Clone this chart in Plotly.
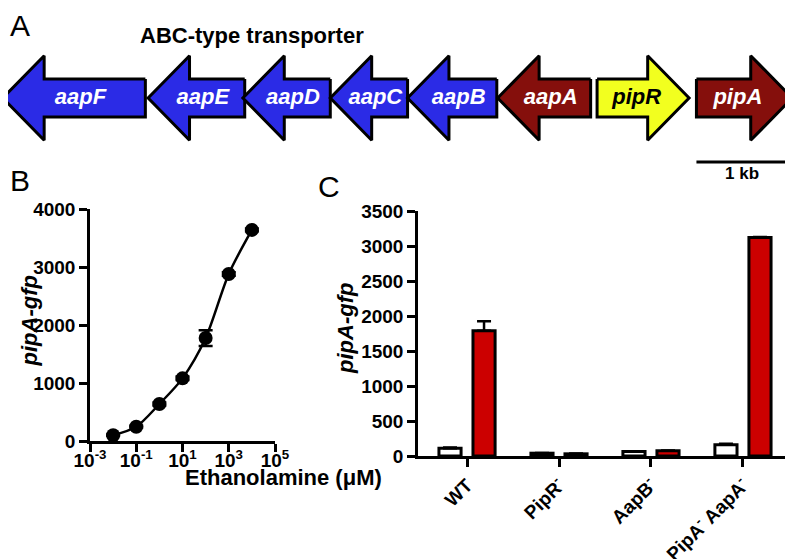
import plotly.graph_objects as go

W, H = 793, 559
OFF = 8  # page body margin of the html page
FONT = "Liberation Sans"

# ---------------- Panel A: gene map ----------------
genes = ["aapF", "aapE", "aapD", "aapC", "aapB", "aapA", "pipR", "pipA"]
gene_start_kb = [0.03, 1.61, 2.64, 3.59, 4.43, 5.41, 6.49, 7.57]
gene_end_kb = [1.58, 2.66, 3.59, 4.43, 5.40, 6.42, 7.49, 8.61]
gene_strand = [-1, -1, -1, -1, -1, -1, 1, 1]
gene_colors = ["#2b2be6", "#2b2be6", "#2b2be6", "#2b2be6", "#2b2be6",
               "#850f0c", "#f2ff1f", "#850f0c"]
gene_label_colors = ["white", "white", "white", "white", "white",
                     "white", "black", "white"]
operon_label = "ABC-type transporter"
scalebar_start_kb = 7.57
scalebar_kb = 1.0
scalebar_label = "1 kb"

# ---------------- Panel B: dose response ----------------
ethanolamine_uM = [0.01, 0.1, 1, 10, 100, 1000, 10000]
pipA_gfp_B = [100, 246, 638, 1080, 1775, 2880, 3640]
pipA_gfp_B_err = [10, 15, 25, 30, 135, 30, 25]
b_tickvals = [1e-3, 1e-1, 1e1, 1e3, 1e5]
b_ticktext = ["10<sup>-3</sup>", "10<sup>-1</sup>", "10<sup>1</sup>",
              "10<sup>3</sup>", "10<sup>5</sup>"]
b_yticks = [0, 1000, 2000, 3000, 4000]

# ---------------- Panel C: strains ----------------
strains = ["WT", "PipR<sup>-</sup>", "AapB<sup>-</sup>",
           "PipA<sup>-</sup> AapA<sup>-</sup>"]
c_white = [111, 40, 64, 160]
c_white_err = [12, 4, 5, 14]
c_red = [1790, 31, 74, 3120]
c_red_err = [136, 4, 5, 10]
c_yticks = [0, 500, 1000, 1500, 2000, 2500, 3000, 3500]

# geometry constants (style)
KB_PX = 92.0
HEAD_KB = 0.45
BODY_H = 0.21
HEAD_H = 0.47


def px_x(p):
    return (p - OFF) / W


def px_y(p):
    return 1 - (p - OFF) / H


fig = go.Figure()

# gene arrows
lab_x = []
for name, s, e, st, col in zip(genes, gene_start_kb, gene_end_kb, gene_strand, gene_colors):
    if st > 0:
        hb = e - HEAD_KB
        xs = [s, hb, hb, e, hb, hb, s, s]
    else:
        hb = s + HEAD_KB
        xs = [e, hb, hb, s, hb, hb, e, e]
    ys = [BODY_H, BODY_H, HEAD_H, 0, -HEAD_H, -BODY_H, -BODY_H, BODY_H]
    fig.add_trace(go.Scatter(x=xs, y=ys, mode="lines", fill="toself",
                             fillcolor=col, line=dict(color="black", width=3),
                             xaxis="x", yaxis="y", hoverinfo="skip",
                             showlegend=False))
    lab_x.append((s + e) / 2 - st * 0.07)

fig.add_trace(go.Scatter(x=lab_x, y=[0] * len(genes), mode="text", text=genes,
                         textposition="middle center",
                         textfont=dict(family=FONT, size=22, color=gene_label_colors,
                                       weight="bold", style="italic"),
                         xaxis="x", yaxis="y", showlegend=False, hoverinfo="skip"))

# scale bar
fig.add_trace(go.Scatter(x=[scalebar_start_kb, scalebar_start_kb + scalebar_kb],
                         y=[-0.71, -0.71], mode="lines",
                         line=dict(color="black", width=3),
                         xaxis="x", yaxis="y", showlegend=False, hoverinfo="skip"))
fig.add_annotation(x=scalebar_start_kb + scalebar_kb / 2, y=-0.84, xref="x", yref="y",
                   text=scalebar_label, showarrow=False,
                   font=dict(family=FONT, size=17, color="black", weight="bold"))
fig.add_annotation(x=2.74, y=0.70, xref="x", yref="y", text=operon_label,
                   showarrow=False,
                   font=dict(family=FONT, size=22, color="black", weight="bold"))

# Panel B line
fig.add_trace(go.Scatter(x=ethanolamine_uM, y=pipA_gfp_B, mode="lines+markers",
                         line=dict(color="black", width=2.5, shape="spline", smoothing=0.8),
                         marker=dict(color="black", size=14, symbol="circle"),
                         error_y=dict(type="data", array=pipA_gfp_B_err, color="black",
                                      thickness=2.5, width=7),
                         cliponaxis=False, xaxis="x2", yaxis="y2", showlegend=False))

# Panel C bars
strain_pos = list(range(len(strains)))
fig.add_trace(go.Bar(x=strain_pos, y=c_white, marker=dict(color="white",
                     line=dict(color="black", width=3)),
                     error_y=dict(type="data", array=c_white_err,
                                  arrayminus=[0] * len(c_white), symmetric=False,
                                  color="black", thickness=2.5, width=7),
                     xaxis="x3", yaxis="y3", showlegend=False))
fig.add_trace(go.Bar(x=strain_pos, y=c_red, marker=dict(color="#cc0000",
                     line=dict(color="black", width=3)),
                     error_y=dict(type="data", array=c_red_err,
                                  arrayminus=[0] * len(c_red), symmetric=False,
                                  color="black", thickness=2.5, width=7),
                     xaxis="x3", yaxis="y3", showlegend=False))

axis_common = dict(showline=True, linecolor="black", linewidth=2.5, ticks="outside",
                   ticklen=8, tickwidth=2.5, tickcolor="black", showgrid=False,
                   zeroline=False, automargin=False,
                   tickfont=dict(family=FONT, size=19, color="black", weight="bold"))

fig.update_layout(
    template="none",
    width=W, height=H, margin=dict(l=0, r=0, t=0, b=0, pad=0), autosize=False,
    paper_bgcolor="white", plot_bgcolor="rgba(0,0,0,0)", showlegend=False,
    barmode="group", bargap=0.26, bargroupgap=0.35,
    xaxis=dict(domain=[0, 1], range=[OFF / KB_PX, (W + OFF) / KB_PX], visible=False,
               automargin=False),
    yaxis=dict(domain=[px_y(188), px_y(8)], range=[-1, 1], visible=False,
               automargin=False),
    xaxis2=dict(domain=[px_x(90), px_x(275)], type="log", range=[-3, 5],
                tickvals=b_tickvals, ticktext=b_ticktext, anchor="y2",
                ticklabelstandoff=-8, **axis_common),
    yaxis2=dict(domain=[px_y(441), px_y(209)], range=[0, 4000], tickvals=b_yticks,
                anchor="x2", **axis_common),
    xaxis3=dict(domain=[px_x(418), px_x(792)], range=[-0.533, 3.533],
                tickvals=strain_pos, ticktext=strains, tickangle=-45, anchor="y3",
                **axis_common),
    yaxis3=dict(domain=[px_y(456), px_y(211)], range=[0, 3500], tickvals=c_yticks,
                anchor="x3", **axis_common),
)

# axis titles and panel letters
fig.add_annotation(x=px_x(183), y=px_y(492), xref="paper", yref="paper",
                   text="Ethanolamine (μM)", showarrow=False,
                   font=dict(family=FONT, size=22, color="black", weight="bold"))
fig.add_annotation(x=px_x(14), y=px_y(321), xref="paper", yref="paper",
                   text="pipA-gfp", textangle=-90, showarrow=False,
                   font=dict(family=FONT, size=22, color="black", weight="bold",
                             style="italic"))
fig.add_annotation(x=px_x(345), y=px_y(329), xref="paper", yref="paper",
                   text="pipA-gfp", textangle=-90, showarrow=False,
                   font=dict(family=FONT, size=22, color="black", weight="bold",
                             style="italic"))
for letter, lx, ly in [("A", 8, 26), ("B", 8, 181), ("C", 316, 186)]:
    fig.add_annotation(x=px_x(lx), y=px_y(ly), xref="paper", yref="paper",
                       text=letter, showarrow=False, xanchor="left", yanchor="middle",
                       font=dict(family=FONT, size=30, color="black"))

fig.write_html("out.html")
